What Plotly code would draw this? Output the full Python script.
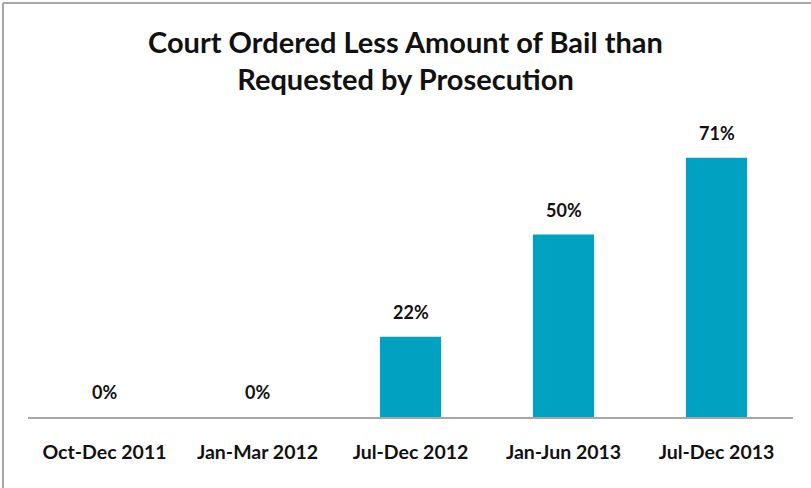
import plotly.graph_objects as go

categories = ["Oct-Dec 2011", "Jan-Mar 2012", "Jul-Dec 2012", "Jan-Jun 2013", "Jul-Dec 2013"]
values = [0, 0, 22, 50, 71]
labels = ["0%", "0%", "22%", "50%", "71%"]

FONT = "Lato"
BAR = "#00A1C1"

fig = go.Figure()
fig.add_trace(go.Bar(x=categories, y=values, marker=dict(color=BAR, line=dict(width=0)),
                     width=0.4, hoverinfo="skip"))

for c, v, t in zip(categories, values, labels):
    fig.add_annotation(x=c, y=v, text="<b>%s</b>" % t, showarrow=False, yshift=25,
                       font=dict(family=FONT, size=18, color="#111111"))

fig.add_shape(type="line", xref="paper", yref="paper", x0=-0.0327, x1=-0.0327, y0=1.306, y1=-0.3,
              line=dict(color="#A6A6A6", width=2))
fig.add_shape(type="line", xref="paper", yref="paper", x0=-0.0327, x1=1.03, y0=1.306, y1=1.306,
              line=dict(color="#A6A6A6", width=2))

fig.update_layout(
    width=811, height=488,
    margin=dict(l=28, r=18, t=100, b=71),
    paper_bgcolor="white", plot_bgcolor="white",
    showlegend=False,
    title=dict(text="<b>Court Ordered Less Amount of Bail than<br>Requested by Prosecution</b>",
               x=0.5, xanchor="center", y=0.892, yanchor="middle", yref="container",
               font=dict(family=FONT, size=29, color="#111111")),
    xaxis=dict(showline=True, linecolor="#A6A6A6", linewidth=2, ticks="", showgrid=False,
               tickfont=dict(family=FONT, size=19.5, color="#111111"), ticklabelstandoff=17,
               tickprefix="<b>", ticksuffix="</b>"),
    yaxis=dict(range=[0, 86.85], visible=False, showgrid=False, zeroline=False),
)

fig.write_html("out.html")
